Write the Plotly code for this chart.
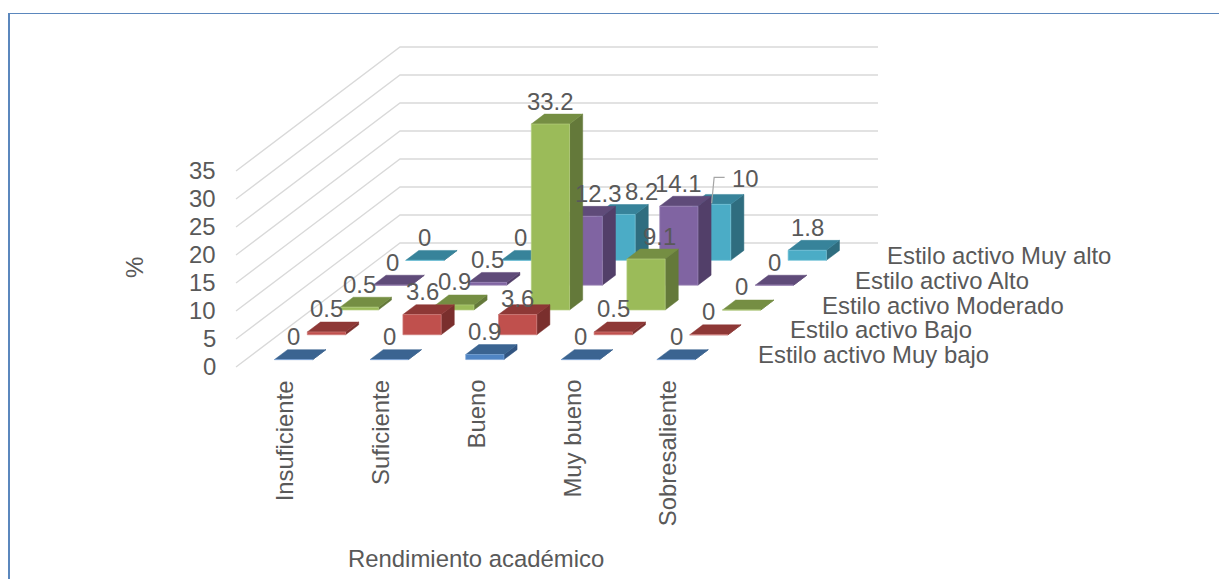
import plotly.graph_objects as go

categories = ["Insuficiente", "Suficiente", "Bueno", "Muy bueno", "Sobresaliente"]
series_names = ["Estilo activo Muy bajo", "Estilo activo Bajo", "Estilo activo Moderado",
                "Estilo activo Alto", "Estilo activo Muy alto"]
muy_bajo = [0, 0, 0.9, 0, 0]
bajo = [0.5, 3.6, 3.6, 0.5, 0]
moderado = [0.5, 0.9, 33.2, 9.1, 0]
alto = [0, 0.5, 12.3, 14.1, 0]
muy_alto = [0, 0, 8.2, 10, 1.8]
series_values = [muy_bajo, bajo, moderado, alto, muy_alto]
value_ticks = [0, 5, 10, 15, 20, 25, 30, 35]
value_title = "%"
category_title = "Rendimiento académico"

# face colours per series: front, top, side, edge
PALETTE = [
    ("#5085C4", "#3B6491", "#315480", "#7AA3D6"),
    ("#C0504D", "#8E3836", "#7A2F2D", "#D07F7C"),
    ("#9BBB59", "#758E43", "#64793A", "#B4CF80"),
    ("#8064A2", "#5F4B79", "#523F69", "#9F8ABA"),
    ("#4BACC6", "#37839A", "#2F6D7F", "#75C3D8"),
]
TEXT = "#595959"
GRID = "#D9D9D9"
FRAME = "#5B87BD"
FONT = "Liberation Sans"
FS = 23.9

# oblique projection of the Excel-style 3D plot box
X0, Y0 = 236.0, 367.0
CAT_W, DEPTH_X, DEPTH_Y, UNIT = 95.6, 32.8, 24.8, 5.6
BAR_GAP = 0.3


def proj(c, d, v):
    return X0 + CAT_W * c + DEPTH_X * d, Y0 - DEPTH_Y * d - UNIT * v


def poly(points):
    xs, ys = [], []
    for p in points:
        x, y = proj(*p)
        xs.append(x)
        ys.append(y)
    x, y = proj(*points[0])
    return xs + [x, None], ys + [y, None]


fig = go.Figure()

# gridlines: side wall then back wall
gx, gy = [], []
for t in value_ticks:
    for p in [(0, 0, t), (0, 5, t), (5, 5, t)]:
        x, y = proj(*p)
        gx.append(x)
        gy.append(y)
    gx.append(None)
    gy.append(None)
fig.add_trace(go.Scatter(x=gx, y=gy, mode="lines", line=dict(color=GRID, width=1.3),
                         hoverinfo="skip", showlegend=False))

# bars, back row to front row
for j in range(len(series_values) - 1, -1, -1):
    vals = series_values[j]
    front_c, top_c, side_c, edge_c = PALETTE[j]
    sx, sy, tx, ty, fx, fy = [], [], [], [], [], []
    for i, v in enumerate(vals):
        c0, c1 = i + BAR_GAP, i + 1 - BAR_GAP
        d0, d1 = j + BAR_GAP, j + 1 - BAR_GAP
        a, b = poly([(c1, d0, 0), (c1, d1, 0), (c1, d1, v), (c1, d0, v)])
        sx += a; sy += b
        a, b = poly([(c0, d0, v), (c1, d0, v), (c1, d1, v), (c0, d1, v)])
        tx += a; ty += b
        a, b = poly([(c0, d0, 0), (c1, d0, 0), (c1, d0, v), (c0, d0, v)])
        fx += a; fy += b
    for xs, ys, col, line_col, w in [
        (sx, sy, side_c, side_c, 0.5),
        (tx, ty, top_c, top_c, 0.5),
        (fx, fy, front_c, edge_c, 0.7),
    ]:
        fig.add_trace(go.Scatter(x=xs, y=ys, mode="lines", fill="toself", fillcolor=col,
                                 line=dict(color=line_col, width=w), name=series_names[j],
                                 hoverinfo="skip", showlegend=False))


def text(x, y, s, size=FS, angle=0, xa="center", ya="middle"):
    fig.add_annotation(x=x, y=y, xref="x", yref="y", text=s, showarrow=False, textangle=angle,
                       xanchor=xa, yanchor=ya, borderpad=0,
                       font=dict(family=FONT, size=size, color=TEXT))


# manually moved data labels in the reference: (series, category) -> pixel nudge
LABEL_NUDGE = {(3, 2): (15, 0), (4, 2): (25, 0), (4, 3): (34, -3), (2, 3): (13, 0), (1, 2): (0, 7)}

for j, vals in enumerate(series_values):
    for i, v in enumerate(vals):
        x, y = proj(i + 0.5, j + BAR_GAP, v)
        dx, dy = LABEL_NUDGE.get((j, i), (0, 0))
        lx, ly = x + dx, y - 23 + dy
        text(lx, ly, f"{v:g}")
        if (j, i) == (4, 3):
            fig.add_trace(go.Scatter(x=[x, lx - 31.5, lx - 21], y=[y - 1, ly - 1, ly - 1], mode="lines",
                                     line=dict(color="#A6A6A6", width=1.2),
                                     hoverinfo="skip", showlegend=False))

for t in value_ticks:
    x, y = proj(0, 0, t)
    text(x - 19, y - 1, str(t), xa="right")

for i, name in enumerate(categories):
    x, y = proj(i + 0.5, 0, 0)
    text(x + 1, y + 12, name, angle=-90, ya="top")

for j, name in enumerate(series_names):
    x, y = proj(5, j + 0.5, 0)
    text(x + 26.5 - 0.6 * j, y, name, xa="left")

text(134, 268, value_title, angle=-90)
text(476, 558, category_title)

fig.update_layout(
    width=1219, height=579, margin=dict(l=0, r=0, t=0, b=0),
    paper_bgcolor="white", plot_bgcolor="white", showlegend=False,
    xaxis=dict(range=[0, 1219], visible=False, fixedrange=True),
    yaxis=dict(range=[579, 0], visible=False, fixedrange=True),
    shapes=[
        dict(type="line", xref="paper", yref="paper", x0=9 / 1219, x1=9 / 1219, y0=0, y1=1 - 13 / 579,
             line=dict(color=FRAME, width=2)),
        dict(type="line", xref="paper", yref="paper", x0=8 / 1219, x1=1, y0=1 - 13.5 / 579, y1=1 - 13.5 / 579,
             line=dict(color=FRAME, width=1)),
    ],
)

fig.write_html("out.html", config={"displayModeBar": False},
               post_script="document.body.style.margin='0';document.body.style.overflow='hidden';")
